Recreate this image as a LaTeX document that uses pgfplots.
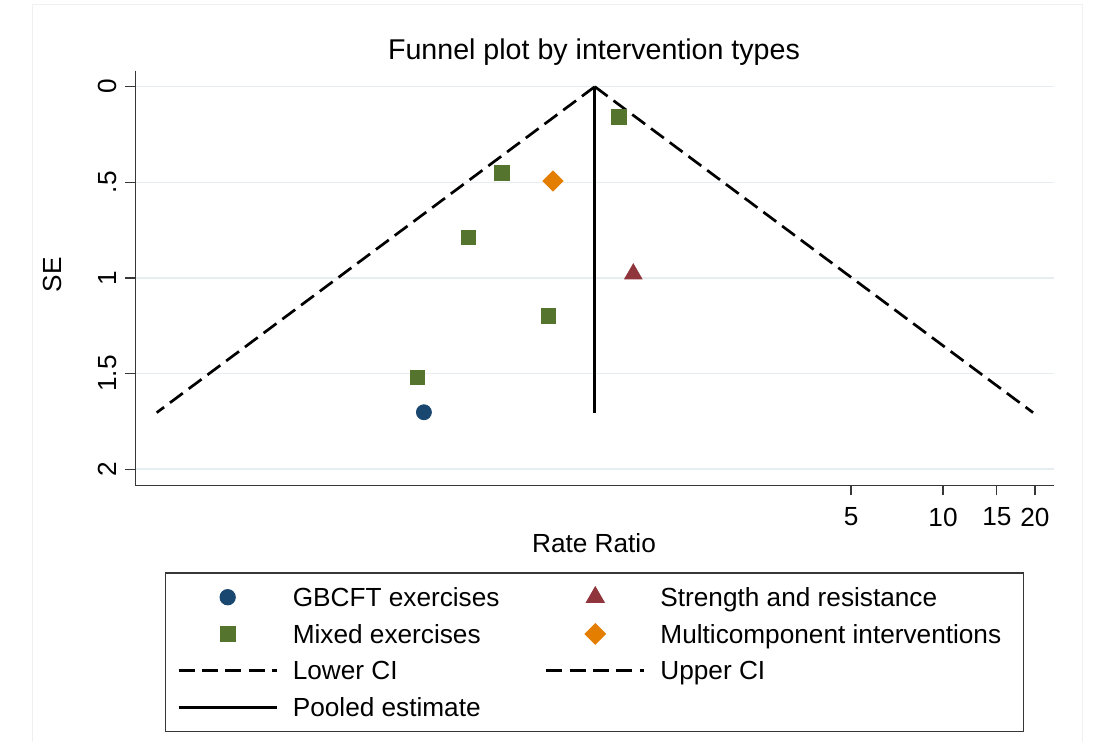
\documentclass[border=0pt]{standalone}
\usepackage{fontspec}
\setmainfont{Liberation Sans}
\usepackage{pgfplots}
\pgfplotsset{compat=1.18}
\definecolor{stnavy}{RGB}{26,71,111}
\definecolor{stmaroon}{RGB}{144,53,59}
\definecolor{stgreen}{RGB}{85,117,47}
\definecolor{storange}{RGB}{227,126,0}
\definecolor{stgrid}{RGB}{230,238,241}
\definecolor{staxis}{RGB}{55,55,55}
\begin{document}
\begin{tikzpicture}
\useasboundingbox (0,0) rectangle (548pt,371pt);
\fill[white] (0,0) rectangle (548pt,371pt);
\draw[black!6, line width=0.5pt] (16pt,-2pt) -- (16pt,368.5pt) -- (541pt,368.5pt) -- (541pt,-2pt);
\begin{axis}[
  at={(67.65pt,128.25pt)}, anchor=south west,
  scale only axis, width=459.35pt, height=207.4pt,
  xmode=log, xmin=0.02272, xmax=23.08,
  y dir=reverse, ymin=-0.0836, ymax=2.085,
  axis x line*=bottom, axis y line*=left,
  axis line style={staxis, line width=0.65pt},
  xtick={5,10,15,20}, xticklabels={5,10,15,20}, minor xtick={},
  ytick={0,0.5,1,1.5,2}, yticklabels={0,.5,1,1.5,2},
  ymajorgrids, grid style={stgrid, line width=0.8pt},
  tick align=outside, major tick length=5pt,
  tick style={staxis, line width=0.65pt},
  ticklabel style={font=\fontsize{13.1}{16}\selectfont, inner sep=0pt},
  /pgf/number format/assume math mode=true,
  xticklabel shift=6pt,
  yticklabel style={rotate=90, anchor=south},
  yticklabel shift=4pt,
  label style={font=\fontsize{13.1}{16}\selectfont},
  xlabel={Rate Ratio},
  xlabel style={at={(axis description cs:0.4993,-0.161)}, anchor=base, inner sep=0pt},
  ylabel={SE},
  ylabel style={at={(axis description cs:-0.0801,0.5075)}, anchor=base, inner sep=0pt},
  title={Funnel plot by intervention types},
  title style={at={(axis description cs:0.4993,1)}, anchor=base, yshift=-0.65pt, font=\fontsize{14.3}{17}\selectfont, inner sep=0pt},
  legend columns=2,
  legend cell align=left,
  legend image code/.code={\draw[mark repeat=2,mark phase=2,#1] plot coordinates {(0pt,0pt) (24.5pt,0pt) (49pt,0pt)};},
  legend style={
    at={(axis description cs:0.0323,-0.2093)}, anchor=north west,
    draw=staxis, line width=0.65pt,
    inner xsep=5.85pt, inner ysep=4.5pt,
    font=\fontsize{13.1}{16}\selectfont,
    nodes={inner sep=0pt, text height=12.25pt, text depth=3pt},
    row sep=3.1pt,
    /tikz/every odd column/.append style={column sep=7.4pt},
    /tikz/every even column/.append style={column sep=22.7pt},
  },
]
\addplot[only marks, mark=*, mark size=3.75pt, color=stnavy]
  coordinates {(0.200,1.702)};
\addlegendentry{GBCFT exercises}
\addplot[only marks, mark=triangle*, mark size=5pt, color=stmaroon]
  coordinates {(0.969,0.979)};
\addlegendentry{Strength and resistance}
\addplot[only marks, mark=square*, mark size=3.6pt, color=stgreen]
  coordinates {(0.870,0.158) (0.360,0.450) (0.280,0.789) (0.511,1.199) (0.190,1.521)};
\addlegendentry{Mixed exercises}
\addplot[only marks, mark=square*, mark size=3.54pt, mark options={rotate=45}, color=storange]
  coordinates {(0.529,0.493)};
\addlegendentry{Multicomponent interventions\rule{5.2pt}{0pt}}
\addplot[black, line width=1.35pt, dash pattern=on 8pt off 3.67pt, no markers]
  coordinates {(0.725,0) (0.0267,1.704)};
\addlegendentry{Lower CI}
\addplot[black, line width=1.35pt, dash pattern=on 8pt off 3.67pt, no markers]
  coordinates {(0.725,0) (19.71,1.704)};
\addlegendentry{Upper CI}
\addplot[black, line width=1.3pt, no markers]
  coordinates {(0.725,0) (0.725,1.704)};
\addlegendentry{Pooled estimate}
\end{axis}
\end{tikzpicture}
\end{document}
